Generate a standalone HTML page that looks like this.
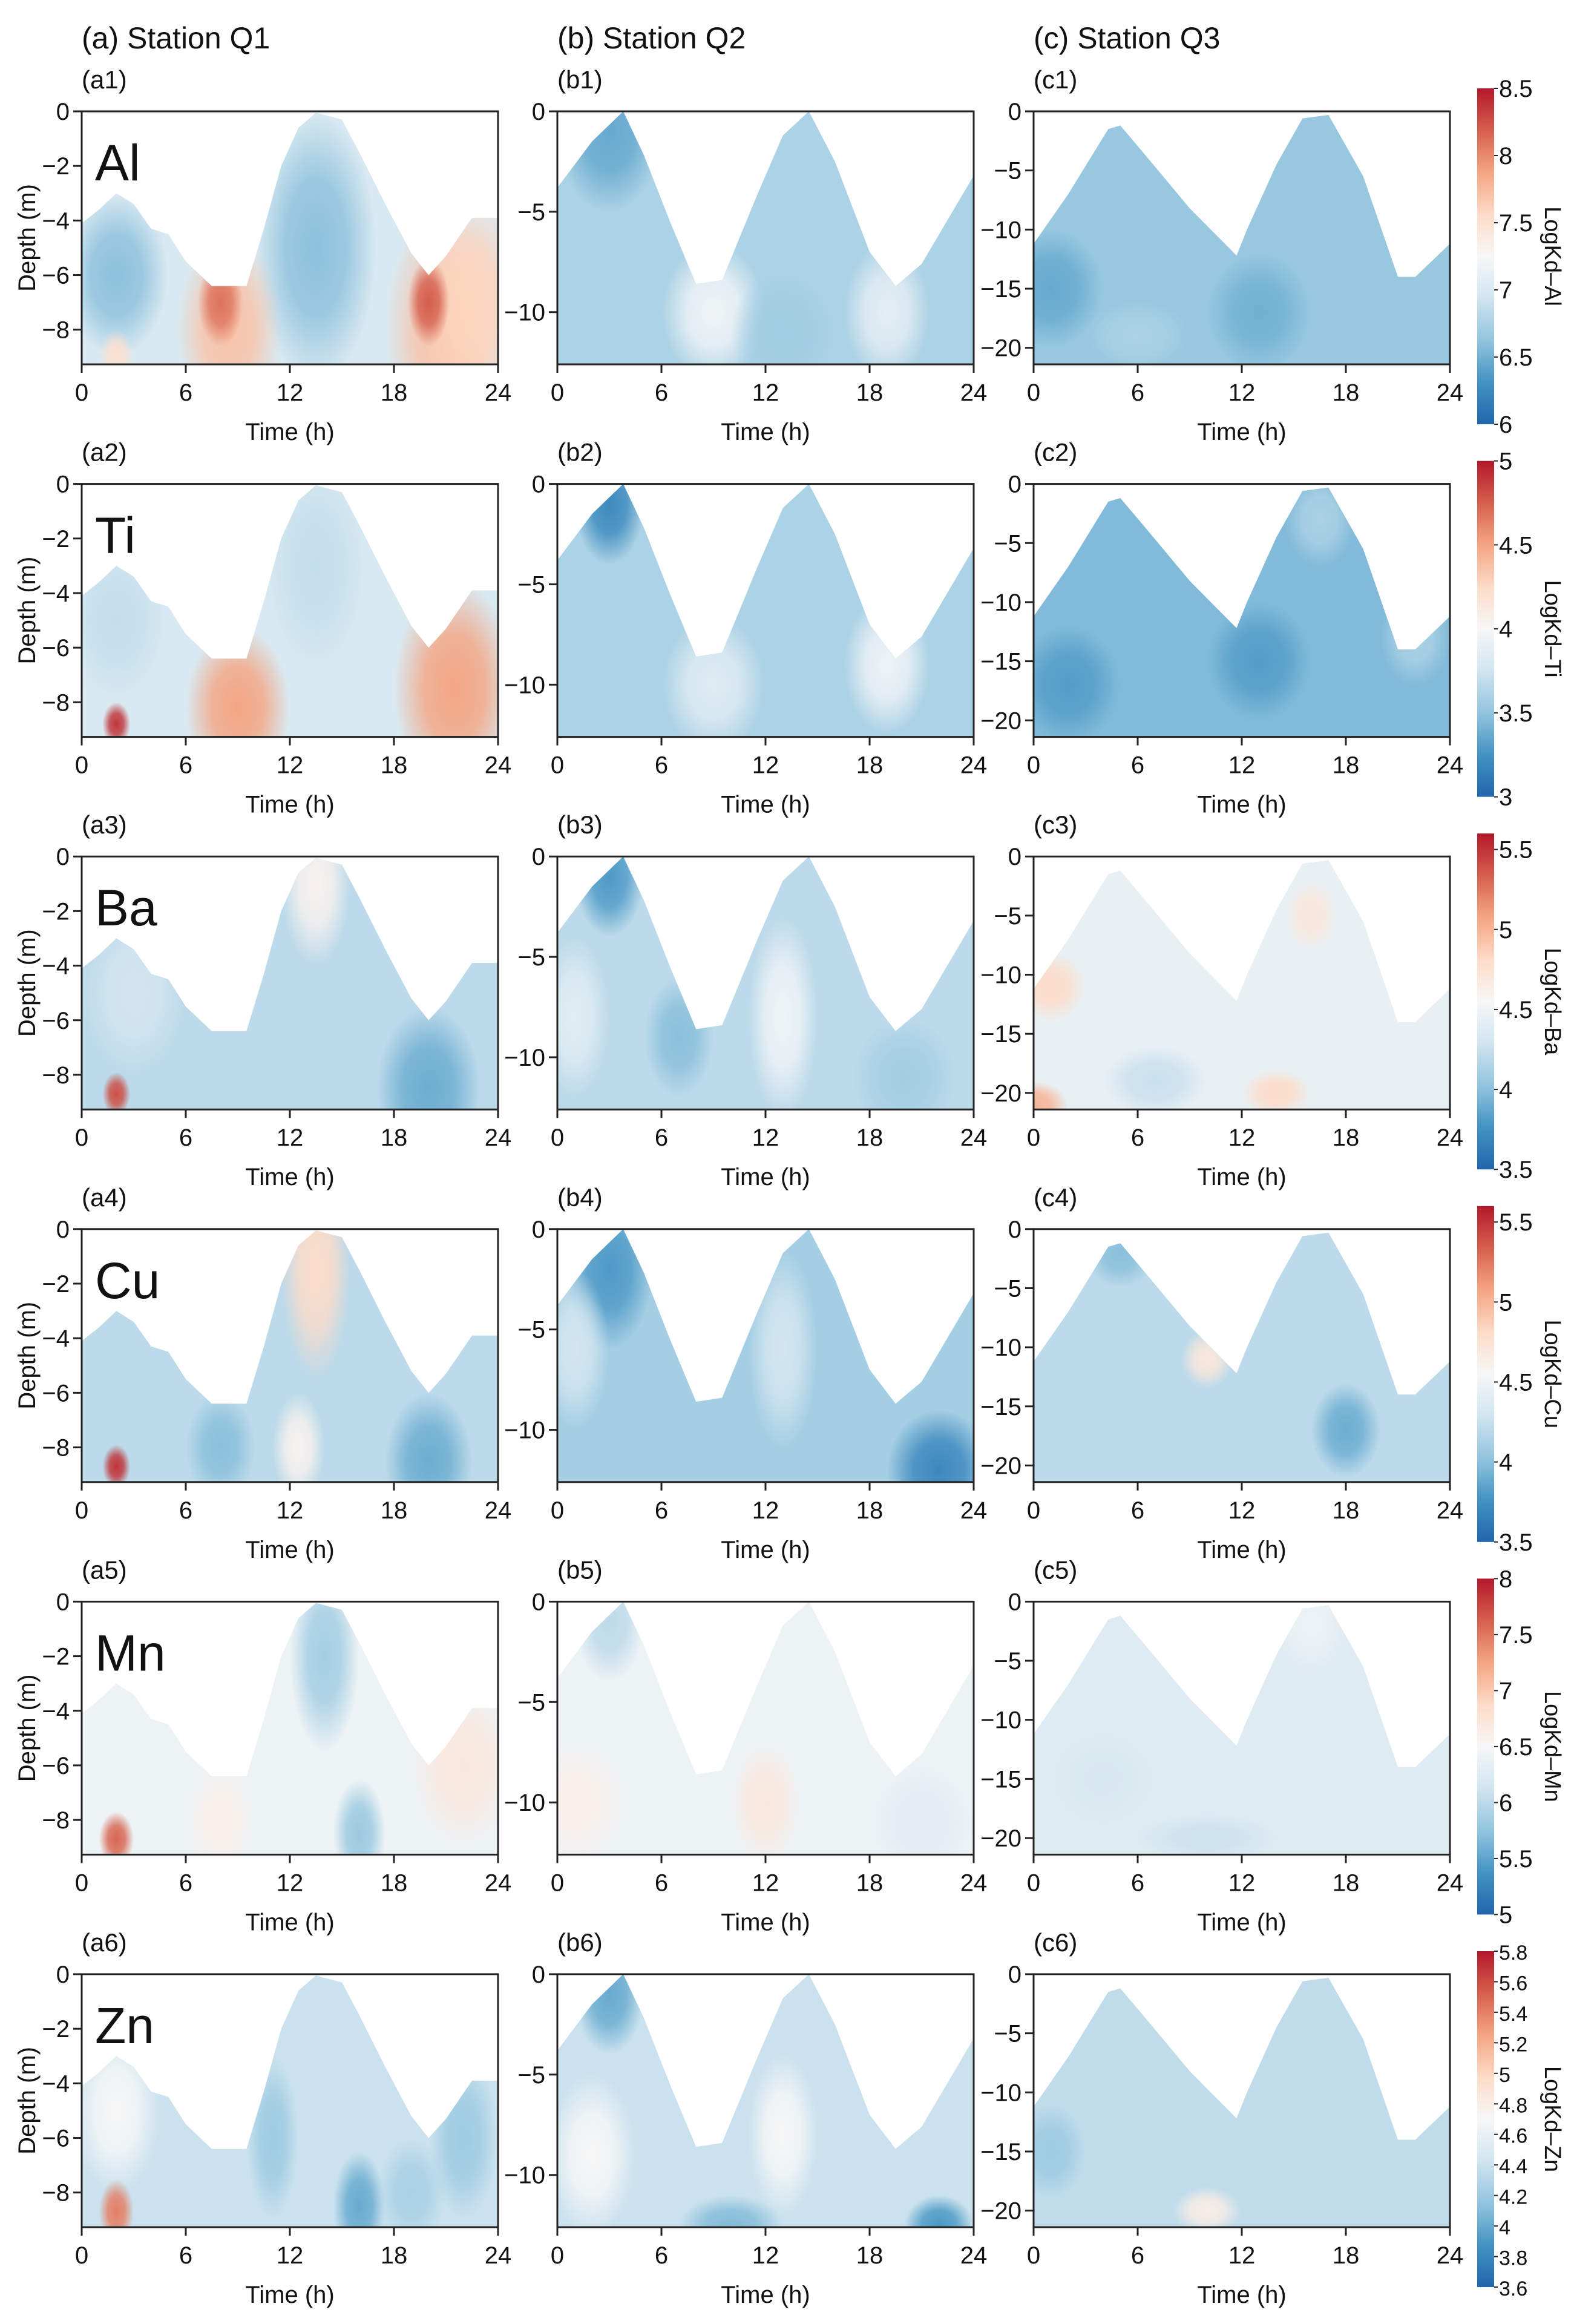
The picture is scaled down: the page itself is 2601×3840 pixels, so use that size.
<!DOCTYPE html>
<html><head><meta charset="utf-8"><title>LogKd contour panels</title>
<style>
html,body{margin:0;padding:0;background:#fff;}
svg{display:block;font-family:"Liberation Sans",Arial,sans-serif;}
</style></head>
<body>
<svg id="fig" xmlns="http://www.w3.org/2000/svg" width="2601" height="3840" viewBox="0 0 2601 3840"></svg>
<script>
// ---- data ----
const elements = ["Al","Ti","Ba","Cu","Mn","Zn"];
const stations = ["Q1","Q2","Q3"];
const colLetters = ["a","b","c"];
const xTicks = [0,6,12,18,24];
const yTicksQ1 = [0,-2,-4,-6,-8];
const yTicksQ2 = [0,-5,-10];
const yTicksQ3 = [0,-5,-10,-15,-20];
const depthMinQ1 = -9.27, depthMinQ2 = -12.6, depthMinQ3 = -21.4;
const surfaceQ1 = [[0,-4.1],[1,-3.6],[2,-3.0],[3,-3.4],[4,-4.3],[5,-4.5],[6,-5.5],[7.5,-6.4],[9.5,-6.4],[10.5,-4.3],[11.5,-2.0],[12.5,-0.6],[13.5,-0.05],[15,-0.3],[16,-1.5],[17.5,-3.4],[19,-5.2],[20,-6.0],[21,-5.3],[22.5,-3.9],[24,-3.9]];
const surfaceQ2 = [[0,-3.8],[2,-1.5],[3.8,0],[5,-2.2],[6.5,-5.5],[8,-8.6],[9.5,-8.4],[11.5,-4.2],[13,-1.2],[14.5,0],[16,-2.5],[18,-7],[19.5,-8.7],[21,-7.6],[24,-3.2]];
const surfaceQ3 = [[0,-11.2],[2,-7],[4.3,-1.5],[5,-1.2],[6.5,-3.8],[9,-8.2],[11.7,-12.2],[12.3,-10],[14,-4.5],[15.5,-0.6],[17,-0.3],[19,-5.5],[21,-14],[22,-14],[24,-11.2]];
const cbMin = [6,3,3.5,3.5,5,3.6];
const cbMax = [8.5,5,5.6,5.6,8,5.8];
const cbTicksAl = [6,6.5,7,7.5,8,8.5];
const cbTicksTi = [3,3.5,4,4.5,5];
const cbTicksBa = [3.5,4,4.5,5,5.5];
const cbTicksCu = [3.5,4,4.5,5,5.5];
const cbTicksMn = [5,5.5,6,6.5,7,7.5,8];
const cbTicksZn = [3.6,3.8,4,4.2,4.4,4.6,4.8,5,5.2,5.4,5.6,5.8];
// base field value per panel [row][col]
const baseAl = [7.0,6.75,6.65];
const baseTi = [3.8,3.6,3.45];
const baseBa = [4.2,4.2,4.45];
const baseCu = [4.2,4.1,4.2];
const baseMn = [6.4,6.4,6.25];
const baseZn = [4.4,4.4,4.35];
// hotspots: [time, depth, value, radiusTime(h), radiusDepth(m)]
const hotAlQ1 = [[2,-6,6.6,3,3],[13.5,-5,6.6,3.5,5],[8.5,-8,7.7,3,3.5],[21,-8,7.7,3.5,4.5],[8,-7,8.1,1.3,1.6],[22.5,-7,7.6,3,4],[20,-7,8.2,1.2,1.6],[2,-9,7.5,1,1]];
const hotAlQ2 = [[3,-1,6.45,3,4],[9,-10,7.2,3,3.5],[19,-10,7.1,2.5,3.5],[13,-11,6.7,3,3]];
const hotAlQ3 = [[1,-15,6.45,3,5],[13,-17,6.5,3,5],[6,-19,6.75,3,3]];
const hotTiQ1 = [[9,-8.2,4.5,3,3],[21.5,-7.5,4.5,3.5,4],[2,-8.8,4.9,0.8,0.8],[13.5,-3,3.7,3,4],[2,-5,3.7,3,3]];
const hotTiQ2 = [[3,-1,3.2,2,3],[9,-10,3.85,3,3.5],[19,-9,3.95,2.5,3.5]];
const hotTiQ3 = [[2,-17,3.3,3,5],[13,-15,3.3,3,5],[22,-13,3.6,2,4],[16.5,-3,3.6,2,4]];
const hotBaQ1 = [[13.5,-1,4.6,2,3],[2,-8.7,5.4,0.8,0.8],[20,-8.5,3.9,3,3],[3,-5,4.3,3,3]];
const hotBaQ2 = [[3,-1,3.8,2,3],[13,-8,4.5,2,5],[1,-8,4.4,2,4],[7,-9,4.0,2,3],[20,-11,4.1,3,3]];
const hotBaQ3 = [[1,-11,4.8,2,3],[0,-21,5.0,2,2],[14,-20,4.8,2,2],[16,-5,4.7,1.5,3],[7,-19,4.25,3,3]];
const hotCuQ1 = [[13.5,-1.5,4.8,2,4],[12.5,-8,4.6,1.5,2],[2,-8.7,5.5,0.8,0.8],[20,-8.5,3.9,2.5,2.5],[8,-8,4.0,2,2]];
const hotCuQ2 = [[3,-2,3.8,2.5,4],[22,-12,3.7,3,3],[13,-6,4.3,2,5],[1,-6,4.3,2,4]];
const hotCuQ3 = [[10,-11,4.7,1.5,2.5],[18,-17,3.9,2,4],[5,-2,4.0,2,3]];
const hotMnQ1 = [[14,-2,5.85,2,3.5],[16,-8.5,5.8,1.5,2],[2,-8.7,7.6,1,1],[22,-6,6.7,3,3],[8,-8,6.6,2,2]];
const hotMnQ2 = [[3,-1,6.0,2,3],[1,-10,6.6,3,3],[12,-10,6.7,2,3],[21,-11,6.3,3,3]];
const hotMnQ3 = [[16,-2,6.4,2,4],[4,-15,6.2,3,4],[10,-20,6.1,4,2]];
const hotZnQ1 = [[2,-5,4.7,2.5,3],[2,-8.7,5.4,1,1.2],[16,-8.5,4.0,1.5,2],[11,-6,4.2,1.5,3],[22,-6,4.2,2,3],[19,-8,4.25,2,2]];
const hotZnQ2 = [[3,-1,4.0,2,3],[2,-9,4.7,2.5,4],[13,-8,4.7,2,4],[22,-12.5,3.9,2,1.5],[10,-12.5,4.1,3,1.5]];
const hotZnQ3 = [[10,-20,4.8,2,2],[1,-15,4.2,2,4]];

// ---- layout ----
const colLeft = [135,921,1708];
const plotW = 688, plotH = 418;
const rowTop0 = 184, rowStep = 615.6;
const cbX = 2441, cbW = 28;
const NS = "http://www.w3.org/2000/svg";
const svg = document.getElementById("fig");
const defs = document.createElementNS(NS,"defs");
svg.appendChild(defs);

const cmapStops = ["#2166ac","#4393c3","#92c5de","#d1e5f0","#f7f7f7","#fddbc7","#f4a582","#d6604d","#b2182b"];
function hex2rgb(h){return [parseInt(h.slice(1,3),16),parseInt(h.slice(3,5),16),parseInt(h.slice(5,7),16)];}
function cmap(f){
  f=Math.max(0,Math.min(1,f));
  const p=f*(cmapStops.length-1), i=Math.min(Math.floor(p),cmapStops.length-2), r=p-i;
  const a=hex2rgb(cmapStops[i]), b=hex2rgb(cmapStops[i+1]);
  return "rgb("+a.map((v,k)=>Math.round(v+(b[k]-v)*r)).join(",")+")";
}
function mk(tag,attrs,parent){
  const e=document.createElementNS(NS,tag);
  for(const k in attrs) e.setAttribute(k,attrs[k]);
  (parent||svg).appendChild(e); return e;
}
function txt(s,x,y,size,anchor,parent){
  const t=mk("text",{x:x,y:y,"font-size":size,"text-anchor":anchor||"start",fill:"#111"},parent);
  t.textContent=s; return t;
}
function fmt(v){return (v<0?"\u2212":"")+Math.abs(v);}

const bases=[baseAl,baseTi,baseBa,baseCu,baseMn,baseZn];
const hots=[[hotAlQ1,hotAlQ2,hotAlQ3],[hotTiQ1,hotTiQ2,hotTiQ3],[hotBaQ1,hotBaQ2,hotBaQ3],[hotCuQ1,hotCuQ2,hotCuQ3],[hotMnQ1,hotMnQ2,hotMnQ3],[hotZnQ1,hotZnQ2,hotZnQ3]];
const cbTicks=[cbTicksAl,cbTicksTi,cbTicksBa,cbTicksCu,cbTicksMn,cbTicksZn];
const surfaces=[surfaceQ1,surfaceQ2,surfaceQ3];
const depthMins=[depthMinQ1,depthMinQ2,depthMinQ3];
const yTicksAll=[yTicksQ1,yTicksQ2,yTicksQ3];

stations.forEach((s,c)=>{
  const t=txt("("+colLetters[c]+") Station "+s,colLeft[c],80,50,"start");
  
  
});

let gid=0;
elements.forEach((el,r)=>{
  const top=rowTop0+r*rowStep, bottom=top+plotH;
  const vmin=cbMin[r], vmax=cbMax[r];
  const norm=v=>(v-vmin)/(vmax-vmin);
  for(let c=0;c<3;c++){
    const L=colLeft[c], R=L+plotW, dmin=depthMins[c];
    const xs=t=>L+t/24*plotW;
    const ys=d=>top+(d/dmin)*plotH;
    const g=mk("g",{});
    
    
    const lab=txt("("+colLetters[c]+(r+1)+")",L,top-38,42,"start",g);
    
    
    const surf=surfaces[c];
    let pts=surf.map(p=>xs(p[0]).toFixed(1)+","+ys(p[1]).toFixed(1));
    pts.push(R+","+bottom, L+","+bottom);
    const cid="clip"+(gid++);
    const cp=mk("clipPath",{id:cid},defs);
    mk("polygon",{points:pts.join(" ")},cp);
    const field=mk("g",{"clip-path":"url(#"+cid+")"},g);
    
    
    mk("rect",{x:L,y:top,width:plotW,height:plotH,fill:cmap(norm(bases[r][c]))},field);
    hots[r][c].forEach(h=>{
      const col=cmap(norm(h[2]));
      const rg="rg"+(gid++);
      const grad=mk("radialGradient",{id:rg},defs);
      mk("stop",{offset:"0","stop-color":col,"stop-opacity":"1"},grad);
      mk("stop",{offset:"0.5","stop-color":col,"stop-opacity":"0.8"},grad);
      mk("stop",{offset:"1","stop-color":col,"stop-opacity":"0"},grad);
      const e=mk("ellipse",{cx:xs(h[0]),cy:ys(h[1]),rx:h[3]/24*plotW,ry:Math.abs(h[4]/dmin)*plotH,fill:"url(#"+rg+")"},field);
      
      
    });
    const fr=mk("rect",{x:L,y:top,width:plotW,height:plotH,fill:"none",stroke:"#222","stroke-width":3},g);
    
    
    xTicks.forEach(t=>{
      mk("line",{x1:xs(t),x2:xs(t),y1:bottom,y2:bottom+14,stroke:"#222","stroke-width":3},g);
      const tl=txt(String(t),xs(t),bottom+60,40,"middle",g);
      
      
    });
    const xt=txt("Time (h)",L+plotW/2,bottom+125,40,"middle",g);
    
    
    yTicksAll[c].forEach(d=>{
      mk("line",{x1:L-14,x2:L,y1:ys(d),y2:ys(d),stroke:"#222","stroke-width":3},g);
      const yl=txt(fmt(d),L-20,ys(d)+14,40,"end",g);
      
      
    });
    if(c===0){
      const yt=txt("Depth (m)",0,0,40,"middle",g);
      yt.setAttribute("transform","translate(58,"+(top+plotH/2)+") rotate(-90)");
      
      
      const et=txt(el,L+22,top+114,84,"start",g);
      
      
    }
  }
  const cbTop=top-38, cbH=555;
  const cg=mk("g",{});
  
  
  const lg="cb"+(gid++);
  const grad=mk("linearGradient",{id:lg,x1:"0",y1:"1",x2:"0",y2:"0"},defs);
  for(let i=0;i<=16;i++) mk("stop",{offset:(i/16).toFixed(3),"stop-color":cmap(i/16)},grad);
  mk("rect",{x:cbX,y:cbTop,width:cbW,height:cbH,fill:"url(#"+lg+")"},cg);
  const cys=v=>cbTop+cbH-(v-vmin)/(vmax-vmin)*cbH;
  cbTicks[r].forEach(v=>{
    mk("line",{x1:cbX+cbW,x2:cbX+cbW+6,y1:cys(v),y2:cys(v),stroke:"#222","stroke-width":2},cg);
    const tl=txt(String(v),cbX+cbW+8,cys(v)+14,r===5?34:40,"start",cg);
    
    
  });
  const ct=txt("LogKd\u2013"+el,0,0,38,"middle",cg);
  ct.setAttribute("transform","translate(2553,"+(cbTop+cbH/2)+") rotate(90)");
  
  
});
</script>
</body></html>
